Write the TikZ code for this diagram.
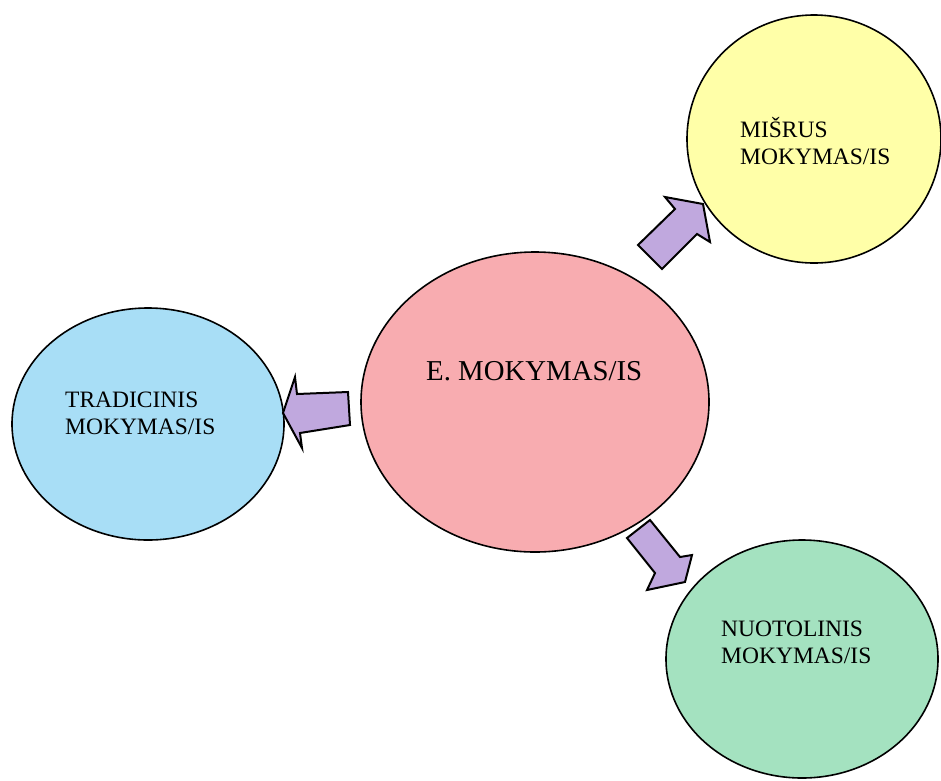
\documentclass[tikz,border=0pt]{standalone}
\usepackage{fontspec}
\setmainfont{Liberation Serif}
\definecolor{cred}{RGB}{248,172,176}
\definecolor{cblue}{RGB}{168,222,246}
\definecolor{cyellow}{RGB}{255,255,168}
\definecolor{cgreen}{RGB}{164,226,192}
\definecolor{cpurple}{RGB}{192,168,222}
\begin{document}
\begin{tikzpicture}[x=1pt,y=-1pt,
  bubble/.style={draw=black,line width=1.6pt},
  blockarrow/.style={draw=black,line width=2pt,line join=miter,fill=cpurple},
  smalltext/.style={anchor=base west,align=left,font=\fontsize{23.5}{26.5}\selectfont,inner sep=0pt},
  bigtext/.style={anchor=base west,font=\fontsize{28.8}{32}\selectfont,inner sep=0pt}]
\useasboundingbox (0,0) rectangle (941,780);
% ellipses
\path[bubble,fill=cyellow] (814,139) ellipse [x radius=127,y radius=124];
\path[bubble,fill=cred] (535,402) ellipse [x radius=174,y radius=150];
\path[bubble,fill=cblue] (148,424) ellipse [x radius=136,y radius=116];
\path[bubble,fill=cgreen] (802,659) ellipse [x radius=136,y radius=119];
% arrows
\path[blockarrow] (638,245) -- (675,209) -- (665,197) -- (703,204) -- (710,242) -- (697,234) -- (662,269) -- cycle;
\path[blockarrow] (348,392) -- (297,394) -- (295,377) -- (283,413) -- (302,448) -- (300,433) -- (350,425) -- cycle;
\path[blockarrow] (650,520) -- (680,557) -- (692,555) -- (685,582) -- (647,590) -- (655,573) -- (627,538) -- cycle;
% texts (base anchor = baseline of the last line)
\node[bigtext] (center) at (426,380) {E. MOKYMAS/IS};
\node[smalltext] (mix) at (740,164) {MIŠRUS\\MOKYMAS/IS};
\node[smalltext] (trad) at (65,434) {TRADICINIS\\MOKYMAS/IS};
\node[smalltext] (dist) at (721,663) {NUOTOLINIS\\MOKYMAS/IS};
\end{tikzpicture}
\end{document}
